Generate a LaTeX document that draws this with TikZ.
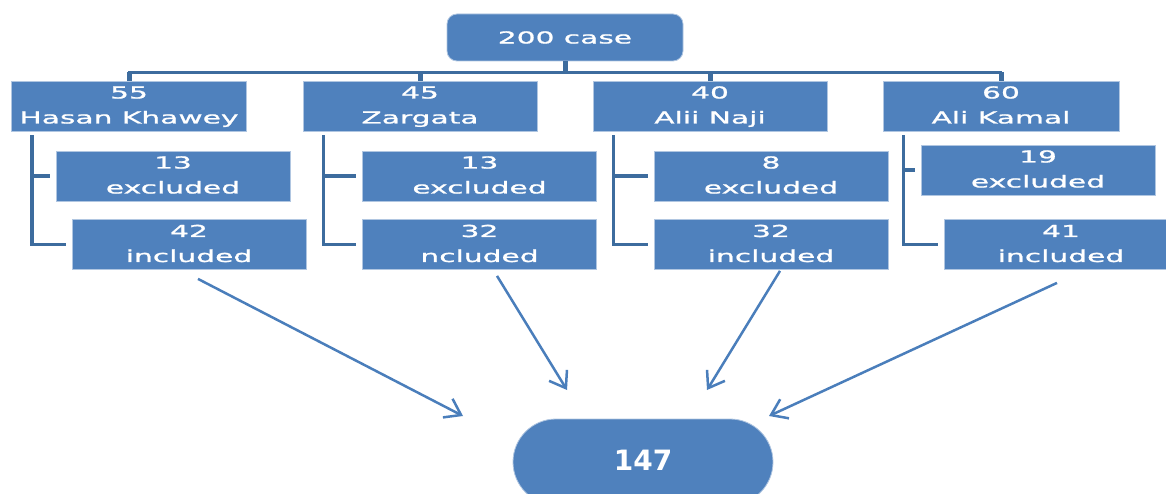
\documentclass[tikz,border=0pt]{standalone}
\usepackage{fontspec}
\newfontfamily\boxfont[FakeStretch=1.8,FakeBold=1.2]{DejaVu Sans}
\newfontfamily\resfont{DejaVu Sans}
\usetikzlibrary{arrows.meta,shapes.misc}
\definecolor{boxblue}{HTML}{4F81BD}
\definecolor{linkblue}{HTML}{3D6C9E}
\definecolor{arrblue}{HTML}{4A7EBB}
\begin{document}
\begin{tikzpicture}[x=1pt,y=-1pt,
  box/.style={fill=boxblue, draw=boxblue!45!white, line width=0.8pt, text=white,
    minimum width=234pt, minimum height=46pt, inner sep=0pt, align=center,
    font=\boxfont\fontsize{16.5}{25}\selectfont},
  topbox/.style={box, rounded corners=10pt, minimum width=236pt, minimum height=47pt},
  resbox/.style={rounded rectangle, fill=boxblue, draw=boxblue!45!white, line width=0.8pt,
    text=white, minimum width=260pt, minimum height=86pt, inner sep=0pt,
    font=\resfont\bfseries\fontsize{28}{32}\selectfont},
  treeline/.style={draw=linkblue, line width=2.5pt},
  dropline/.style={draw=linkblue, line width=5pt},
  bracket/.style={draw=linkblue, line width=3.5pt},
  arr/.style={draw=arrblue, line width=2.5pt, -{Straight Barb[length=15pt,width=21pt,line width=2.5pt]}}
]
\useasboundingbox (0,0) rectangle (1166,494);

% top
\node[topbox] (top) at (565,37.5) {200 case};

% level 1
\node[box, minimum width=235pt] (a1) at (129,106) {55\strut\\Hasan Khawey\strut};
\node[box] (b1) at (420,106) {45\strut\\Zargata\strut};
\node[box] (c1) at (710,106) {40\strut\\Alii Naji\strut};
\node[box, minimum width=236pt] (d1) at (1001,106) {60\strut\\Ali Kamal\strut};

% excluded
\node[box] (a2) at (173,176) {13\strut\\excluded\strut};
\node[box] (b2) at (479.5,176) {13\strut\\excluded\strut};
\node[box] (c2) at (771,176) {8\strut\\excluded\strut};
\node[box] (d2) at (1038,170) {19\strut\\excluded\strut};

% included
\node[box, minimum height=45pt] (a3) at (189,244.5) {42\strut\\included\strut};
\node[box, minimum height=45pt] (b3) at (479.5,244.5) {32\strut\\ncluded\strut};
\node[box, minimum height=45pt] (c3) at (771,244.5) {32\strut\\included\strut};
\node[box, minimum height=45pt] (d3) at (1061,244.5) {41\strut\\included\strut};

% result
\node[resbox] (res) at (643,462) {\raisebox{4pt}{147}};

% tree connectors
\foreach \c in {a1,b1,c1,d1}{
  \draw[treeline] (top.south) -- ++(0,11) -| (\c.north);
  \draw[dropline] (\c.north) -- ++(0,-9);
}
\draw[dropline] (top.south) -- ++(0,10);

% brackets
\foreach \p/\e/\i in {a1/a2/a3,b1/b2/b3,c1/c2/c3,d1/d2/d3}{
  \draw[bracket] ([xshift=21pt,yshift=-4pt]\p.south west) |- ([xshift=-6pt]\e.west);
  \draw[bracket] ([xshift=21pt,yshift=-4pt]\p.south west) |- ([xshift=-6pt]\i.west);
}

% arrows to result
\coordinate (ea) at (463,416);
\coordinate (eb) at (567,390);
\coordinate (ec) at (707,390);
\coordinate (ed) at (769,416);
\draw[arr] ([xshift=9pt,yshift=-9pt]a3.south) -- (ea);
\draw[arr] ([xshift=17.5pt,yshift=-6pt]b3.south) -- (eb);
\draw[arr] ([xshift=9pt,yshift=-1pt]c3.south) -- (ec);
\draw[arr] ([xshift=-4pt,yshift=-13pt]d3.south) -- (ed);
\end{tikzpicture}
\end{document}
